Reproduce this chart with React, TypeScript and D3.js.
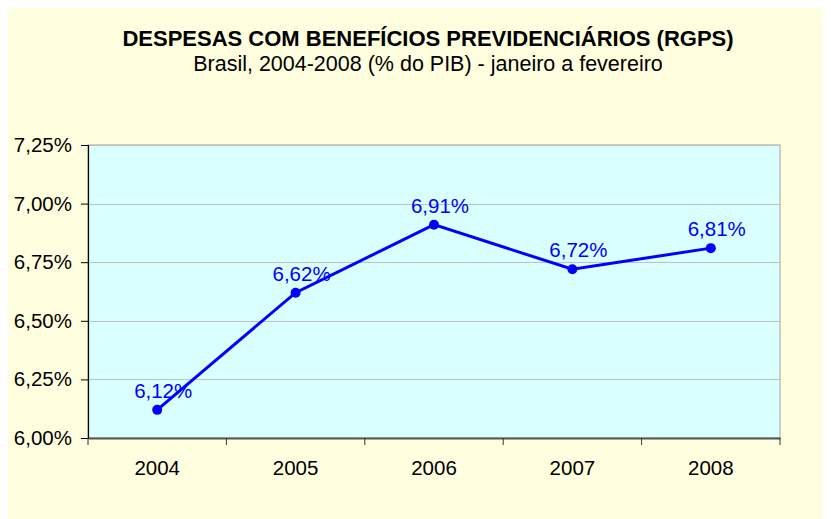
import React, { useEffect, useRef } from "react";
import * as d3 from "d3";

const years = ["2004", "2005", "2006", "2007", "2008"];
const values = [6.12, 6.62, 6.91, 6.72, 6.81];
const yTicks = [6.0, 6.25, 6.5, 6.75, 7.0, 7.25];

const fmt = (v: number, digits: number) => v.toFixed(digits).replace(".", ",") + "%";
const FONT = "Liberation Sans, Arial, sans-serif";

const App = () => {
  const ref = useRef<SVGSVGElement | null>(null);

  useEffect(() => {
    const svg = d3.select(ref.current);
    svg.selectAll("*").remove();

    const W = 823;
    const H = 511;
    // plot area in svg coords (svg sits at 8,8 on the page)
    const margin = { left: 80, top: 137 };
    const width = 772 - margin.left;
    const height = 430 - margin.top;

    svg.append("rect").attr("width", W).attr("height", H).attr("fill", "#FFFFDF");

    svg.append("text")
      .attr("x", 420).attr("y", 38)
      .attr("text-anchor", "middle")
      .attr("font-family", FONT)
      .attr("font-weight", "bold")
      .attr("font-size", 22)
      .attr("fill", "#000")
      .text("DESPESAS COM BENEFÍCIOS PREVIDENCIÁRIOS (RGPS)");

    svg.append("text")
      .attr("x", 420).attr("y", 63)
      .attr("text-anchor", "middle")
      .attr("font-family", FONT)
      .attr("font-size", 21.5)
      .attr("fill", "#000")
      .text("Brasil, 2004-2008 (% do PIB) - janeiro a fevereiro");

    const g = svg.append("g").attr("transform", `translate(${margin.left},${margin.top})`);

    const x = d3.scaleBand().domain(years).range([0, width]);
    const y = d3.scaleLinear().domain([6.0, 7.25]).range([height, 0]);

    g.append("rect")
      .attr("width", width).attr("height", height)
      .attr("fill", "#D9FFFF")
      .attr("stroke", "#A0A0A0")
      .attr("stroke-width", 1);

    g.selectAll(".grid")
      .data(yTicks.slice(1))
      .enter().append("line")
      .attr("class", "grid")
      .attr("x1", 0).attr("x2", width)
      .attr("y1", d => Math.round(y(d)) + 0.5)
      .attr("y2", d => Math.round(y(d)) + 0.5)
      .attr("stroke", "#C0C0C0")
      .attr("stroke-width", 1);

    // y axis
    const yAxis = g.append("g")
      .call(d3.axisLeft(y).tickValues(yTicks).tickSize(7).tickPadding(9).tickFormat(d => fmt(+d, 2)));
    yAxis.select(".domain").attr("stroke", "#000").attr("stroke-width", 1.2);
    yAxis.selectAll(".tick line").attr("stroke", "#000");
    yAxis.selectAll("text")
      .attr("font-family", FONT)
      .attr("font-size", 20.5)
      .attr("fill", "#000");

    // x axis
    const xAxis = g.append("g").attr("transform", `translate(0,${height})`)
      .call(d3.axisBottom(x).tickSize(0).tickPadding(22));
    xAxis.select(".domain").attr("stroke", "#555").attr("stroke-width", 2);
    xAxis.selectAll("text")
      .attr("font-family", FONT)
      .attr("font-size", 20.5)
      .attr("fill", "#000");
    g.selectAll(".xtick")
      .data(d3.range(years.length + 1))
      .enter().append("line")
      .attr("class", "xtick")
      .attr("x1", i => i * x.step()).attr("x2", i => i * x.step())
      .attr("y1", height).attr("y2", height + 7)
      .attr("stroke", "#333");

    const cx = (d: string) => (x(d) as number) + x.bandwidth() / 2;

    const line = d3.line<number>()
      .x((_, i) => cx(years[i]))
      .y(d => y(d));

    g.append("path")
      .datum(values)
      .attr("d", line)
      .attr("fill", "none")
      .attr("stroke", "#0000FF")
      .attr("stroke-width", 3);

    g.selectAll(".dot")
      .data(values)
      .enter().append("circle")
      .attr("cx", (_, i) => cx(years[i]))
      .attr("cy", d => y(d))
      .attr("r", 5)
      .attr("fill", "#0000FF");

    g.selectAll(".lbl")
      .data(values)
      .enter().append("text")
      .attr("x", (_, i) => cx(years[i]) + 6)
      .attr("y", d => y(d) - 12)
      .attr("text-anchor", "middle")
      .attr("font-family", FONT)
      .attr("font-size", 20.5)
      .attr("fill", "#0000FF")
      .text(d => fmt(d, 2));
  }, []);

  return <svg ref={ref} width={823} height={511} style={{ display: "block" }} />;
};

export default App;
